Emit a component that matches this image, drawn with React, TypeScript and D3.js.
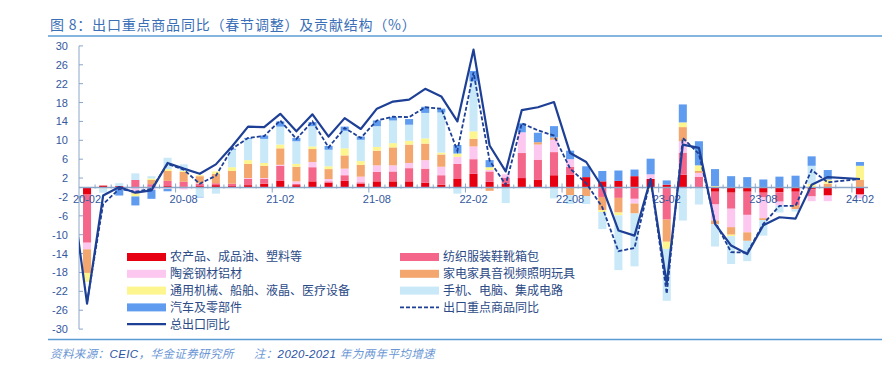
import React from "react";
import * as d3 from "d3";

const months = [
  "20-02","20-03","20-04","20-05","20-06","20-07","20-08","20-09","20-10","20-11","20-12",
  "21-01","21-02","21-03","21-04","21-05","21-06","21-07","21-08","21-09","21-10","21-11","21-12",
  "22-01","22-02","22-03","22-04","22-05","22-06","22-07","22-08","22-09","22-10","22-11","22-12",
  "23-01","23-02","23-03","23-04","23-05","23-06","23-07","23-08","23-09","23-10","23-11","23-12",
  "24-01","24-02",
];
const xTickLabels = ["20-02","20-08","21-02","21-08","22-02","22-08","23-02","23-08","24-02"];
const yTickValues = [30,26,22,18,14,10,6,2,-2,-6,-10,-14,-18,-22,-26,-30];

// contributions (percentage points)
const agri = [-1.5,0.4,0.3,0,0.2,0.3,0.2,0.3,0.5,0.3,0.5,0.8,1.4,0.5,1.3,1.0,1.4,0.8,1.3,1.3,1.3,1.0,0.6,1.8,2.9,1.2,0.8,2.0,1.6,2.6,2.7,2.2,1.3,1.4,2.4,1.8,0.6,2.7,0,-0.9,-1.1,-0.9,-1.1,-1.0,-0.9,-0.4,-1.7,null,-1.5];
const textile = [-10.2,0,-0.4,1.6,0.5,1.1,1.0,0.5,0.4,0.5,1.3,1.0,3.2,0.3,3.0,0.3,1.2,0.3,2.0,2.1,2.8,3.0,2.0,3.2,3.1,2.2,1.3,5.3,4.3,4.9,1.7,0,-2.0,-2.2,-2.4,0,-6.8,4.7,2.3,-2.7,-3.4,-4.9,-1.0,-2.0,-2.8,-1.5,0,null,0];
const steel = [-1.4,0,0,-1.0,-0.5,-0.3,-0.4,0.1,0,0,0.2,0.2,0.2,0.5,1.1,0.5,1.4,1.2,1.4,1.3,1.1,1.8,1.8,1.5,2.7,0.3,0.7,4.4,3.2,2.6,1.6,0,0,0,-1.0,1.0,0,2.4,0.8,-3.4,-3.9,-3.7,-4.4,-0.8,0,-1.0,-1.2,null,-0.8];
const appliance = [-5.0,0,0,-0.3,0.9,2.1,2.1,1.5,2.0,2.7,3.0,2.6,3.5,3.1,2.75,2.1,2.8,2.5,3.1,3.8,3.9,3.5,2.6,0,1.6,-0.7,0,0,0.5,0.5,-1.6,-1.8,-2.8,-3.1,-2.1,0,-4.7,3.0,0.4,-0.8,-1.6,-1.8,-0.4,0,-0.9,0,0.8,null,1.6];
const machinery = [-1.9,-0.2,0,-0.6,0.3,0.4,0.2,0.2,0.5,0.8,0.8,0.6,0.8,0.6,0.55,0.6,1.5,0.8,0.8,0.9,0.8,1.1,0.4,0.7,1.6,0.6,0,0,0,0,0,0,-0.4,-0.6,0,-0.4,-1.5,1.0,1.2,0.3,-0.3,0,0.1,0.1,0.1,0.8,0.9,null,3.0];
const electronics = [0,-0.9,0.6,1.4,0.5,2.4,1.4,-2.0,-1.3,3.7,4.5,5.1,3.8,4.8,4.3,3.5,3.7,4.5,4.4,4.8,3.4,5.4,8.5,-1.3,10.6,0,-3.3,0,0,-2.3,-1.9,-1.7,-3.6,-11.6,-11.2,0,-11.0,-7.0,-3.6,-4.7,-5.9,-4.3,-3.3,-1.5,-0.5,3.8,0,null,0];
const auto = [0,0,-1.3,-1.9,-1.9,-0.5,0,-0.1,0,0.2,0.2,0.7,1.1,0.7,0.85,0.8,0.9,0.7,1.2,0.7,1.2,1.3,0.8,1.8,2.2,1.5,0,1.9,2.0,2.4,1.8,2.3,2.2,2.2,1.4,3.3,0.9,3.8,5.1,3.6,2.4,2.2,1.6,2.2,2.4,2.0,2.0,null,0.8];

// lines (%)
const totalExportJan20 = 0.6;
const totalExport = [-24.6,-1.7,0.1,-1.1,-0.6,5.2,4.0,2.9,4.9,8.7,12.9,12.8,15.6,11.9,15.5,10.8,14.7,12.4,16.7,18.2,18.6,20.9,19.3,14.0,29.2,8.9,3.4,16.4,17.0,18.1,7.3,5.4,0.1,-9.1,-10.2,1.8,-20.4,9.1,8.4,-7.7,-12.3,-14.1,-8.0,-6.3,-6.6,0.6,2.2,null,1.8];
const keyGoods = [-24.3,-3.5,-0.3,-0.9,-0.3,5.0,3.8,0.8,2.5,8.2,10.5,10.9,14.2,10.3,14.0,8.5,12.6,10.5,14.2,15.0,14.9,17.0,16.7,7.8,24.4,5.7,0.6,13.6,12.1,11.0,4.0,0.9,-4.2,-13.5,-12.8,1.8,-22.5,10.5,7.1,-7.3,-13.7,-13.8,-7.7,-3.9,-3.9,3.7,1.1,null,1.8];

const seriesNames = [
  "农产品、成品油、塑料等",
  "纺织服装鞋靴箱包",
  "陶瓷钢材铝材",
  "家电家具音视频照明玩具",
  "通用机械、船舶、液晶、医疗设备",
  "手机、电脑、集成电路",
  "汽车及零部件",
];
const seriesColors = ["#e60012", "#f4668a", "#fcc8f0", "#f3a76f", "#fdf58e", "#c9e8f8", "#5f9cef"];
const seriesValues = [agri, textile, steel, appliance, machinery, electronics, auto];
const lineNames = ["总出口同比", "出口重点商品同比"];
const lineColor = "#1d3f95";

const W = 894;
const H = 391;
const plotLeft = 79;
const plotRight = 868;

export default function App() {
  const x = d3
    .scaleBand<string>()
    .domain(months)
    .range([plotLeft, plotRight])
    .paddingInner(0.5)
    .paddingOuter(0.25);
  const y = d3.scaleLinear().domain([-30, 30]).range([329.1, 45.9]);
  const cx = (m: string) => (x(m) as number) + x.bandwidth() / 2;
  const y0 = y(0);

  const keys = seriesNames.map((_, i) => "s" + i);
  const rows = months.map((m, i) => {
    const r: any = { month: m };
    seriesValues.forEach((arr, k) => (r["s" + k] = arr[i] == null ? 0 : arr[i]));
    return r;
  });
  const stacked = d3.stack<any>().keys(keys).offset(d3.stackOffsetDiverging)(rows);

  const line = d3
    .line<[number, number]>()
    .x((d) => d[0])
    .y((d) => d[1]);

  const totalPts: [number, number][] = [[cx(months[0]) - x.step(), y(totalExportJan20)]];
  totalExport.forEach((v, i) => {
    if (v != null) totalPts.push([cx(months[i]), y(v)]);
  });
  const keyPts: [number, number][] = [];
  keyGoods.forEach((v, i) => {
    if (v != null) keyPts.push([cx(months[i]), y(v)]);
  });

  const axisColor = "#8aa6c8";
  const labelColor = "#34589e";
  const numFont = "'Liberation Sans', Arial, sans-serif";
  const cjkFont = "'Noto Sans CJK SC', 'Noto Sans', sans-serif";

  const legendLeft = [
    { type: "bar", idx: 0 },
    { type: "bar", idx: 2 },
    { type: "bar", idx: 4 },
    { type: "bar", idx: 6 },
    { type: "solid", idx: 0 },
  ];
  const legendRight = [
    { type: "bar", idx: 1 },
    { type: "bar", idx: 3 },
    { type: "bar", idx: 5 },
    { type: "dash", idx: 1 },
  ];
  const legendRowY = (r: number) => 257 + r * 16.8;

  const renderLegendItem = (it: any, r: number, sx: number, tx: number) => {
    const yy = legendRowY(r);
    const label = it.type === "bar" ? seriesNames[it.idx] : lineNames[it.idx];
    return (
      <g key={label}>
        {it.type === "bar" ? (
          <rect x={sx} y={yy - 4} width={39} height={8} fill={seriesColors[it.idx]} />
        ) : (
          <line
            x1={sx}
            x2={sx + 39}
            y1={yy}
            y2={yy}
            stroke={lineColor}
            strokeWidth={it.type === "solid" ? 2.2 : 1.8}
            strokeDasharray={it.type === "dash" ? "4 2" : undefined}
          />
        )}
        <text x={tx} y={yy} dy="0.36em" fontSize={12} fill="#2b4a86" fontFamily={cjkFont}>
          {label}
        </text>
      </g>
    );
  };

  return (
    <svg
      width={W}
      height={H}
      style={{ position: "absolute", left: 0, top: 0, background: "#fff" }}
    >
      <defs>
        <clipPath id="plotClip">
          <rect x={plotLeft} y={30} width={plotRight - plotLeft} height={310} />
        </clipPath>
      </defs>
      {/* title */}
      <text x={50} y={25} dy="0.36em" fontSize={14} letterSpacing={0.8} fill="#3b6fb6" fontFamily={cjkFont}>
        图 8：出口重点商品同比（春节调整）及贡献结构（%）
      </text>
      <line x1={48} x2={882} y1={36} y2={36} stroke="#5b9bd5" strokeWidth={1.5} />

      {/* bars */}
      {stacked.map((layer, k) => (
        <g key={layer.key} fill={seriesColors[k]}>
          {layer.map((d, i) => {
            const v = seriesValues[k][i];
            if (v == null || v === 0) return null;
            const top = y(Math.max(d[0], d[1]));
            const bot = y(Math.min(d[0], d[1]));
            return (
              <rect key={i} x={x(months[i])} y={top} width={x.bandwidth()} height={bot - top} />
            );
          })}
        </g>
      ))}

      {/* y axis */}
      <line x1={plotLeft} x2={plotLeft} y1={y(30)} y2={y(-30)} stroke={axisColor} strokeWidth={1} />
      {yTickValues.map((v) => (
        <g key={v}>
          <line x1={plotLeft} x2={plotLeft + 4} y1={y(v)} y2={y(v)} stroke={axisColor} />
          <text
            x={68}
            y={y(v)}
            dy="0.36em"
            textAnchor="end"
            fontSize={11}
            fill={labelColor}
            fontFamily={numFont}
          >
            {v}
          </text>
        </g>
      ))}

      {/* x axis */}
      <line x1={plotLeft} x2={plotRight} y1={y0} y2={y0} stroke={axisColor} strokeWidth={1.5} />
      {months.map((m, i) =>
        i === 0 ? null : (
          <line
            key={m}
            x1={(x(m) as number) - x.step() * 0.25}
            x2={(x(m) as number) - x.step() * 0.25}
            y1={i % 6 === 0 ? y0 - 4 : y0 - 3}
            y2={i % 6 === 0 ? y0 + 5 : y0 + 1}
            stroke={axisColor}
          />
        )
      )}
      {xTickLabels.map((m) => (
        <text
          key={m}
          x={cx(m)}
          y={y0 + 15}
          textAnchor="middle"
          fontSize={11}
          fill={labelColor}
          fontFamily={numFont}
        >
          {m}
        </text>
      ))}

      {/* lines */}
      <g clipPath="url(#plotClip)">
        <path d={line(keyPts) || ""} fill="none" stroke={lineColor} strokeWidth={1.8} strokeDasharray="4 2" />
        <path d={line(totalPts) || ""} fill="none" stroke={lineColor} strokeWidth={2.2} strokeLinejoin="round" />
      </g>

      {/* legend */}
      {legendLeft.map((it, r) => renderLegendItem(it, r, 127, 170))}
      {legendRight.map((it, r) => renderLegendItem(it, r, 400, 443))}

      {/* footer */}
      <line x1={48} x2={882} y1={339.5} y2={339.5} stroke="#5b9bd5" strokeWidth={1.5} />
      <text x={50} y={354} dy="0.36em" fontSize={11.5} letterSpacing={0.4} fontStyle="italic" fontFamily={cjkFont} fill="#6a96d4">
        <tspan>资料来源：</tspan>
        <tspan fill="#2a55a5" fontFamily={numFont}>CEIC</tspan>
        <tspan>，华金证券研究所</tspan>
        <tspan dx={20}>注：</tspan>
        <tspan fill="#2a55a5" fontFamily={numFont}>2020-2021 </tspan>
        <tspan>年为两年平均增速</tspan>
      </text>
    </svg>
  );
}
